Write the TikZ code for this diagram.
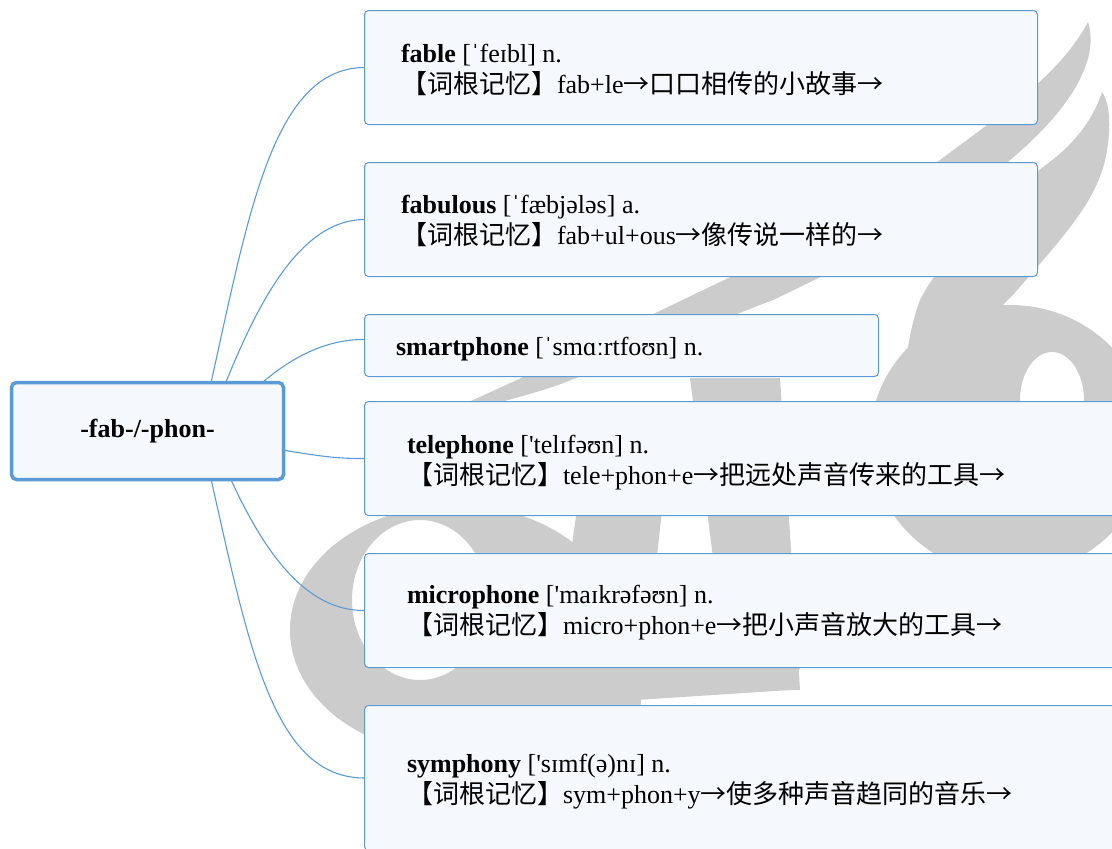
\documentclass[tikz,border=0pt]{standalone}
\usepackage{fontspec}
\setmainfont{Liberation Serif}
\newfontfamily\cjk{Noto Sans CJK SC}
\definecolor{lineblue}{RGB}{91,155,213}
\definecolor{boxfill}{RGB}{245,248,252}
\definecolor{wm}{RGB}{204,204,204}
\begin{document}
\begin{tikzpicture}[x=1pt,y=-1pt,
  box/.style={draw=lineblue, fill=boxfill, line width=1pt, rounded corners=4pt, inner sep=0pt, outer sep=0pt, anchor=north west},
  rootbox/.style={draw=lineblue, fill=boxfill, line width=3.5pt, rounded corners=5pt, inner sep=0pt, outer sep=0pt, minimum width=272pt, minimum height=97pt, font=\fontsize{26}{31}\selectfont\bfseries},
  conn/.style={draw=lineblue, line width=1.1pt},
  txt/.style={inner sep=0pt, outer sep=0pt, anchor=base west, font=\fontsize{26}{31}\selectfont},
  wmark/.style={fill=wm}]
\useasboundingbox (0,0) rectangle (1112,849);
\clip (0,0) rectangle (1112,849);
% watermark
\fill[wmark] (1088,22) .. controls (1060,75) and (1000,115) .. (940,160)
  .. controls (850,225) and (700,290) .. (600,340)
  .. controls (520,380) and (460,405) .. (420,425)
  .. controls (470,410) and (530,395) .. (558,385)
  .. controls (650,350) and (720,320) .. (773,300)
  .. controls (900,240) and (980,190) .. (1010,160)
  .. controls (1070,110) and (1100,60) .. (1088,22) -- cycle;
\fill[wmark] (1102,92) .. controls (1090,130) and (1060,155) .. (1043,167)
  .. controls (990,210) and (940,260) .. (920,300)
  .. controls (905,340) and (905,380) .. (900,420) -- (960,420)
  .. controls (965,370) and (975,330) .. (1013,295)
  .. controls (1060,240) and (1100,200) .. (1107,150)
  .. controls (1112,120) and (1108,100) .. (1102,92) -- cycle;
\fill[wmark, even odd rule] (1010,440) ellipse [x radius=140, y radius=135] (1052,400) ellipse [x radius=32, y radius=48];
\fill[wmark, even odd rule] (455,630) ellipse [x radius=165, y radius=125] (420,600) ellipse [x radius=68, y radius=80];
\fill[wmark] (548,710) -- (640,710) -- (672,420) -- (590,420) -- cycle;
\fill[wmark] (690,378) -- (780,378) -- (800,690) -- (730,690) -- cycle;
\fill[wmark] (548,668) -- (800,668) -- (790,690) -- (560,705) -- cycle;
% start points of connectors (inside the root)
\coordinate (s1) at (200,431);
\coordinate (s2) at (207,431);
\coordinate (s3) at (215,431);
\coordinate (s4) at (250,445);
\coordinate (s5) at (210,431);
\coordinate (s6) at (200,431);
% boxes
\node[box, minimum width=673pt, minimum height=114pt] (b1) at (364.5,10.5) {};
\node[box, minimum width=673pt, minimum height=114pt] (b2) at (364.5,162.5) {};
\node[box, minimum width=514pt, minimum height=62pt] (b3) at (364.5,314.5) {};
\node[box, minimum width=800pt, minimum height=114pt] (b4) at (364.5,401.5) {};
\node[box, minimum width=800pt, minimum height=114pt] (b5) at (364.5,553.5) {};
\node[box, minimum width=800pt, minimum height=145pt] (b6) at (364.5,705.5) {};
% connectors
\draw[conn] (s1) .. controls (245,240) and (265,68) .. (b1.west);
\draw[conn] (s2) .. controls (245,330) and (290,220) .. (b2.west);
\draw[conn] (s3) .. controls (250,390) and (300,339) .. ([yshift=6pt]b3.west);
\draw[conn] (s4) .. controls (300,452) and (325,459) .. (b4.west);
\draw[conn] (s5) .. controls (245,517) and (290,611) .. (b5.west);
\draw[conn] (s6) .. controls (245,622) and (265,778) .. (b6.west);
% root
\node[rootbox] (root) at (147.5,431) {-fab-/-phon-};
% texts
\node[txt] (w1) at (401,62) {\textbf{fable} [ˈfeɪbl] n.};
\node[txt] (e1) at (401,93) {{\cjk 【词根记忆】}fab+le{\cjk →口口相传的小故事→}};
\node[txt] (w2) at (401,213) {\textbf{fabulous} [ˈfæbjələs] a.};
\node[txt] (e2) at (401,244) {{\cjk 【词根记忆】}fab+ul+ous{\cjk →像传说一样的→}};
\node[txt] (w3) at (396,355) {\textbf{smartphone} [ˈsmɑːrtfoʊn] n.};
\node[txt] (w4) at (407,453) {\textbf{telephone} [\textquotesingle telɪfəʊn] n.};
\node[txt] (e4) at (407,484) {{\cjk 【词根记忆】}tele+phon+e{\cjk →把远处声音传来的工具→}};
\node[txt] (w5) at (407,603) {\textbf{microphone} [\textquotesingle maɪkrəfəʊn] n.};
\node[txt] (e5) at (407,634) {{\cjk 【词根记忆】}micro+phon+e{\cjk →把小声音放大的工具→}};
\node[txt] (w6) at (407,772) {\textbf{symphony} [\textquotesingle sɪmf(ə)nɪ] n.};
\node[txt] (e6) at (407,803) {{\cjk 【词根记忆】}sym+phon+y{\cjk →使多种声音趋同的音乐→}};
\end{tikzpicture}
\end{document}
